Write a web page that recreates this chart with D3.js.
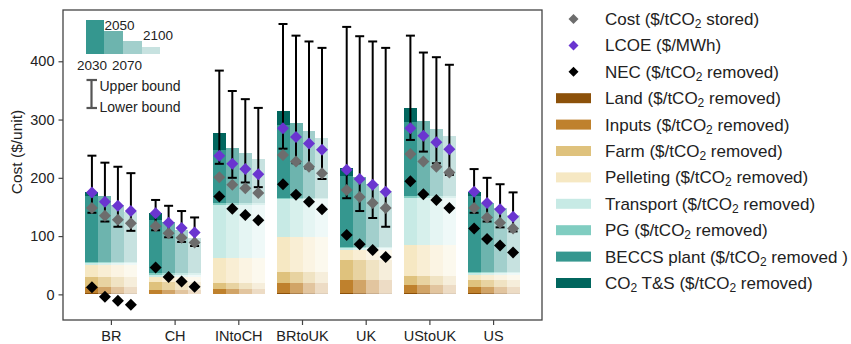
<!DOCTYPE html>
<html><head><meta charset="utf-8">
<script src="https://cdn.jsdelivr.net/npm/d3@7"></script>
<style>body{margin:0;background:#fff} svg{font-family:"Liberation Sans",Arial,sans-serif}</style>
</head><body><svg id="c" width="851" height="344"></svg>
<script>
// ---------- DATA ----------
const groups = ["BR","CH","INtoCH","BRtoUK","UK","UStoUK","US"];
const years = ["2030","2050","2070","2100"];
const yTicks = [0,100,200,300,400];
// supply-chain components per group ($/tCO2 removed)
const land      = [2, 1, 1, 2, 3, 2, 2];
const inputs    = [11, 6, 8, 18, 22, 14, 11];
const farm      = [17, 15, 10, 19, 34, 15, 12];
const pelleting = [20, 8, 43, 60, 17, 54, 8];
const transport = [4, 4, 92, 65, 4, 81, 4];
const pg        = [2, 2, 2, 2, 2, 2, 2];
// per group, per year
const beccsPlant = [[112,112,97,86],[92,89,74,61],[92,96,86,76],[124,128,115,102],[121,120,108,95],[128,129,116,104],[129,118,109,97]];
const co2TS      = [[8,0,0,0],[11,0,0,0],[29,0,0,0],[24,0,0,0],[14,0,0,0],[24,0,0,0],[8,0,0,0]];
const lcoe = [[175,159,152,143],[139,123,114,106],[238,224,215,206],[285,270,259,248],[214,198,188,176],[285,272,261,249],[176,157,146,133]];
const cost = [[148,135,128,122],[117,105,97,89],[201,188,182,174],[239,228,219,208],[179,167,157,148],[241,228,219,209],[148,132,123,113]];
const nec  = [[12,-4,-11,-18],[46,30,22,13],[168,147,136,127],[189,171,159,146],[102,86,76,64],[194,172,162,148],[113,95,84,72]];
const upper = [[238,226,219,208],[162,152,143,132],[384,349,335,320],[464,444,434,423],[459,443,434,423],[444,415,407,394],[215,200,189,175]];
const lower = [[140,125,116,109],[110,98,90,83],[224,200,192,184],[250,225,216,198],[165,143,131,116],[265,245,225,205],[140,125,115,108]];
const componentNames = ["Land","Inputs","Farm","Pelleting","Transport","PG","BECCS plant","CO2 T&S"];

// ---------- STYLE ----------
const compColors = ["#8c510a","#bf812d","#dfc27d","#f6e8c3","#c7eae5","#80cdc1","#35978f","#01665e"];
const yearAlpha = [1, 0.72, 0.46, 0.28];
const purple = "#6a35d0", grey = "#6d6d6d";

const svg = d3.select("#c");
const L = 63, R = 542, T = 10, B = 320;
const x = d3.scaleBand().domain(groups).range([L, R]).paddingInner(0.184).paddingOuter(0.352);
const xs = d3.scaleBand().domain(years).range([0, x.bandwidth()]);
const y = d3.scaleLinear().domain([-44, 488]).range([B, T]);

const gBars = svg.append("g");
groups.forEach((g, i) => {
  years.forEach((yr, j) => {
    const vals = [land[i], inputs[i], farm[i], pelleting[i], transport[i], pg[i], beccsPlant[i][j], co2TS[i][j]];
    let cum = 0;
    vals.forEach((v, k) => {
      if (v > 0) {
        gBars.append("rect")
          .attr("x", x(g) + xs(yr)).attr("width", xs.bandwidth())
          .attr("y", y(cum + v)).attr("height", y(cum) - y(cum + v))
          .attr("fill", compColors[k]).attr("fill-opacity", yearAlpha[j])
          .attr("shape-rendering", "crispEdges");
      }
      cum += v;
    });
  });
});

// error bars
const gErr = svg.append("g").attr("stroke", "#000").attr("stroke-width", 2);
groups.forEach((g, i) => years.forEach((yr, j) => {
  const cx = x(g) + xs(yr) + xs.bandwidth() / 2;
  gErr.append("line").attr("x1", cx).attr("x2", cx).attr("y1", y(lower[i][j])).attr("y2", y(upper[i][j]));
  [upper[i][j], lower[i][j]].forEach(v =>
    gErr.append("line").attr("x1", cx - 4.5).attr("x2", cx + 4.5).attr("y1", y(v)).attr("y2", y(v)));
}));

// markers
const diamond = r => `M0,${-r}L${r},0L0,${r}L${-r},0Z`;
function markers(arr, color) {
  groups.forEach((g, i) => years.forEach((yr, j) => {
    const cx = x(g) + xs(yr) + xs.bandwidth() / 2;
    svg.append("path").attr("d", diamond(6)).attr("fill", color)
      .attr("transform", `translate(${cx},${y(arr[i][j])})`);
  }));
}
markers(cost, grey);
markers(lcoe, purple);
markers(nec, "#000");

// frame
svg.append("rect").attr("x", L).attr("y", T).attr("width", R - L).attr("height", B - T)
  .attr("fill", "none").attr("stroke", "#444").attr("stroke-width", 1.3);

// axes
const yAx = svg.append("g").attr("transform", `translate(${L},0)`)
  .call(d3.axisLeft(y).tickValues(yTicks).tickSize(4.5).tickPadding(4));
const xAx = svg.append("g").attr("transform", `translate(0,${B})`)
  .call(d3.axisBottom(x).tickSize(5).tickPadding(6));
[yAx, xAx].forEach(a => {
  a.select(".domain").remove();
  a.selectAll("line").attr("stroke", "#444").attr("stroke-width", 1.2);
  a.selectAll("text").attr("font-size", 14.5).attr("fill", "#222").attr("font-family", "Liberation Sans, Arial, sans-serif");
});
svg.append("text").attr("transform", "translate(22,152) rotate(-90)")
  .attr("text-anchor", "middle").attr("font-size", 15.5).attr("fill", "#222").text("Cost ($/unit)");

// inset year legend
const inset = svg.append("g");
const insetBars = [[86, 104, 20], [104, 122.7, 30.7], [122.7, 141.7, 40.7], [141.7, 160, 46.7]];
insetBars.forEach((b, j) => inset.append("rect").attr("x", b[0]).attr("width", b[1] - b[0])
  .attr("y", b[2]).attr("height", 54 - b[2]).attr("fill", compColors[6]).attr("fill-opacity", yearAlpha[j])
  .attr("shape-rendering", "crispEdges"));
const insetLabels = [[years[0], 77, 70], [years[1], 104.5, 30], [years[2], 112, 70], [years[3], 143, 40]];
insetLabels.forEach(l => inset.append("text").attr("x", l[1]).attr("y", l[2]).attr("font-size", 13.5).attr("fill", "#222").text(l[0]));
const ig = inset.append("g").attr("stroke", "#555").attr("stroke-width", 2.2);
ig.append("line").attr("x1", 91.5).attr("x2", 91.5).attr("y1", 80).attr("y2", 108);
ig.append("line").attr("x1", 86.5).attr("x2", 97).attr("y1", 80).attr("y2", 80);
ig.append("line").attr("x1", 86.5).attr("x2", 97).attr("y1", 108).attr("y2", 108);
inset.append("text").attr("x", 99.5).attr("y", 91).attr("font-size", 14).attr("fill", "#222").text("Upper bound");
inset.append("text").attr("x", 99.5).attr("y", 112).attr("font-size", 14).attr("fill", "#222").text("Lower bound");

// main legend
const legendItems = [
  {type: "m", color: grey, label: "Cost ($/tCO2 stored)"},
  {type: "m", color: purple, label: "LCOE ($/MWh)"},
  {type: "m", color: "#000", label: "NEC ($/tCO2 removed)"},
  ...componentNames.map((n, k) => ({type: "p", color: compColors[k],
     label: n + (n === "BECCS plant" ? " ($/tCO2 removed )" : " ($/tCO2 removed)")}))
];
const lg = svg.append("g");
legendItems.forEach((it, k) => {
  const cy = 19 + k * 26.4;
  if (it.type === "m") {
    lg.append("path").attr("d", diamond(5)).attr("fill", it.color).attr("transform", `translate(573.5,${cy})`);
  } else {
    lg.append("rect").attr("x", 556).attr("y", cy - 5).attr("width", 35).attr("height", 10).attr("fill", it.color);
  }
  const t = lg.append("text").attr("x", 605).attr("y", cy + 6).attr("font-size", 17).attr("fill", "#222");
  const parts = it.label.split("CO2");
  parts.forEach((p, pi) => {
    if (pi > 0) {
      t.append("tspan").text("CO");
      t.append("tspan").attr("font-size", 12).attr("dy", 3).text("2");
      t.append("tspan").attr("dy", -3).text(p);
    } else {
      t.append("tspan").text(p);
    }
  });
});
</script></body></html>
